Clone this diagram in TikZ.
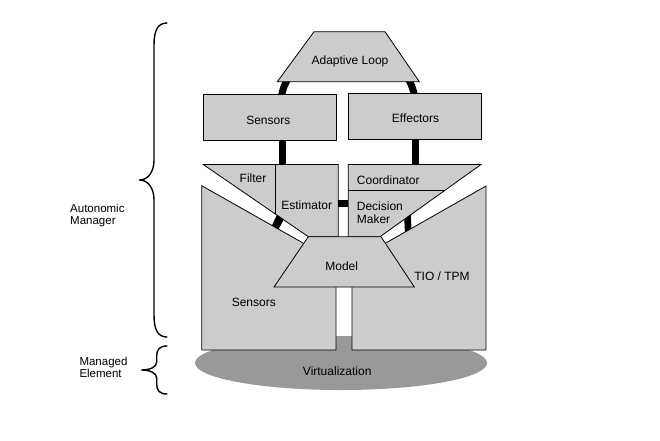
\documentclass[tikz,border=0pt]{standalone}
\usepackage{fontspec}
\setmainfont{Liberation Sans}
\usetikzlibrary{calc}
\definecolor{boxgray}{RGB}{204,204,204}
\definecolor{basegray}{RGB}{153,153,153}
\tikzset{
  part/.style={fill=boxgray, draw=black, line width=0.8pt, line join=miter},
  link/.style={draw=black, line width=7pt},
  lbl/.style={font=\fontsize{12}{14}\selectfont, inner sep=0pt, anchor=base},
  side/.style={font=\fontsize{11.5}{13}\selectfont, inner sep=0pt, anchor=base west},
  bracestroke/.style={draw=black, line width=1.4pt, line cap=round, line join=round}
}
\begin{document}
\begin{tikzpicture}[x=1pt,y=-1pt]
\useasboundingbox (0,0) rectangle (660,440);

% managed element base
\fill[basegray] (341,363) ellipse [x radius=146pt, y radius=27pt];

% adaptive loop ring (upper half, mostly hidden)
\coordinate (loopL) at (281,103);
\draw[link] (loopL) arc[start angle=180, end angle=0, x radius=67pt, y radius=55pt] coordinate (loopR);

% vertical connectors
\coordinate (sensS) at (282.5,140);
\coordinate (filtN) at (282.5,165);
\coordinate (effS) at (415,139);
\coordinate (coordN) at (415,165);
\draw[link] (sensS) -- (filtN);
\draw[link] (effS) -- (coordN);

% adaptive loop trapezoid
\filldraw[part] (314,31.7) -- (385,31.7) -- (419.3,81.7) -- (277.3,81.7) -- cycle;

% sensors / effectors boxes
\filldraw[part] (203.3,94) rectangle (336.7,140);
\filldraw[part] (348.3,93.3) rectangle (481,139.3);

% big lower boxes
\coordinate (B1) at (201.7,185.7);
\coordinate (B2) at (303.5,243.3);
\coordinate (RB1) at (486,186);
\coordinate (RB2) at (385.3,243.3);
\filldraw[part] (B1) -- (306,244.7) -- (290,280) -- (336,283) -- (336,350) -- (201.7,350) -- cycle;
\filldraw[part] (RB1) -- (383,244.6) -- (400,280) -- (352,283) -- (352,350) -- (486,350) -- cycle;

% funnels
\coordinate (F1) at (203.3,164.5);
\coordinate (F2) at (308.3,236.7);
\coordinate (RF1) at (481,164.5);
\coordinate (RF2) at (380,236.7);
\filldraw[part] (F1) -- (338.3,164.5) -- (338.3,236.7) -- (F2) -- cycle;
\draw[line width=0.8pt] (275.7,164.5) -- (275.7,214.3);
\filldraw[part] (348.3,164.5) -- (RF1) -- (RF2) -- (348.3,236.7) -- cycle;
\draw[line width=0.8pt] (348.3,190) -- (445.3,190);

% black stripes in the white channels
\fill[black] ($(F1)!0.70!(F2)$) -- ($(F1)!0.765!(F2)$) -- ($(B1)!0.755!(B2)$) -- ($(B1)!0.69!(B2)$) -- cycle;
\fill[black] ($(RF1)!0.695!(RF2)$) -- ($(RF1)!0.76!(RF2)$) -- ($(RB1)!0.805!(RB2)$) -- ($(RB1)!0.74!(RB2)$) -- cycle;

% estimator - decision maker connector
\coordinate (estE) at (338.3,203.3);
\coordinate (decW) at (348.3,203.3);
\draw[link] (estE) -- (decW);

% model
\filldraw[part] (308.3,236.7) -- (381,236.7) -- (414.3,287) -- (274,287) -- cycle;

% labels
\node[lbl] (tAL) at (350,64.3) {Adaptive Loop};
\node[lbl] (tSens) at (268.3,124) {Sensors};
\node[lbl] (tEff) at (415.5,122.3) {Effectors};
\node[lbl] (tFilt) at (253,182.3) {Filter};
\node[lbl] (tEst) at (306.7,209) {Estimator};
\node[lbl] (tCoord) at (388.3,184) {Coordinator};
\node[lbl, anchor=base west] (tDec) at (356.7,210.5) {Decision};
\node[lbl, anchor=base west] (tMak) at (356.7,223) {Maker};
\node[lbl] (tModel) at (341.7,270) {Model};
\node[lbl] (tTIO) at (442,280.7) {TIO / TPM};
\node[lbl] (tSens2) at (253.8,306) {Sensors};
\node[lbl] (tVirt) at (337.2,375.7) {Virtualization};
\node[side] (tAM1) at (70,212) {Autonomic};
\node[side] (tAM2) at (70,224) {Manager};
\node[side] (tME1) at (79.3,365.7) {Managed};
\node[side] (tME2) at (79.3,377.3) {Element};

% braces
\draw[bracestroke] (167,23) .. controls (158,23) and (154,30) .. (154,45) -- (154,160)
  .. controls (154,172) and (148,180) .. (139.5,180)
  .. controls (148,180) and (154,188) .. (154,200) -- (154,315)
  .. controls (154,330) and (158,337) .. (167,337);
\draw[bracestroke] (167,346) .. controls (159,346) and (156.7,350) .. (156.7,356) -- (156.7,362)
  .. controls (156.7,367) and (150,370) .. (141.5,370)
  .. controls (150,370) and (156.7,373) .. (156.7,378) -- (156.7,384)
  .. controls (156.7,390) and (159,394) .. (167,394);
\end{tikzpicture}
\end{document}
